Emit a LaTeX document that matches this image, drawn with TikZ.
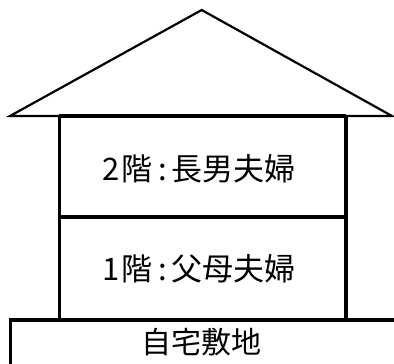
\documentclass[tikz,border=0pt]{standalone}
\usepackage{fontspec}
\newfontfamily\jp{Noto Sans CJK JP}
\tikzset{
  roofline/.style={draw=black, line width=2.2pt, line join=miter, fill=white},
  wall/.style={draw=black, line width=3.5pt, fill=white},
  label/.style={inner sep=0pt, anchor=base, font=\jp\fontsize{31}{31}\selectfont},
  sitelabel/.style={inner sep=0pt, anchor=base, font=\jp\fontsize{30}{30}\selectfont}
}
\begin{document}
\begin{tikzpicture}[x=1pt,y=-1pt]
\clip (0,0) rectangle (394,364);
\fill[white] (0,0) rectangle (394,364);
% ground
\draw[wall] (10.3,320) rectangle (420,400);
% floors
\draw[wall] (59.3,217) rectangle (346,320);
\draw[wall] (59.3,116) rectangle (346,217);
% roof
\draw[roofline] (201.7,10) -- (392,116) -- (10,116) -- cycle;
\draw[black, line width=3.5pt] (59.3,116) -- (346,116);
\node[label] (f2) at (199,180.5) {2\kern2.5pt階\kern6pt:\kern4.5pt長男夫婦};
\node[label] (f1) at (199,280.5) {1\kern2.5pt階\kern6pt:\kern4.5pt父母夫婦};
\node[sitelabel] (site) at (201.5,353) {自宅敷地};
\end{tikzpicture}
\end{document}
